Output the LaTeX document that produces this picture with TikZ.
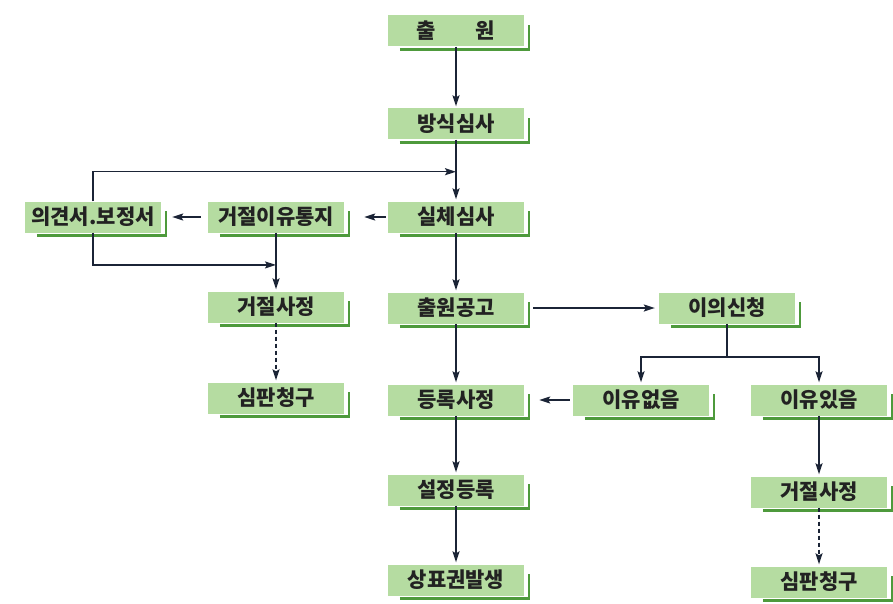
\documentclass[tikz,border=0pt]{standalone}
\usepackage{fontspec}
\newfontfamily\ko{Noto Sans CJK KR}
\usetikzlibrary{arrows.meta,calc}
\definecolor{boxfill}{HTML}{B5DCA1}
\definecolor{boxline}{HTML}{4E9A3C}
\definecolor{arr}{HTML}{1B2436}
\definecolor{txt}{HTML}{222222}
\begin{document}
\begin{tikzpicture}[x=1pt,y=-1pt,
  gbox/.style={fill=boxfill, minimum width=136pt, minimum height=31pt, inner sep=0pt,
    font=\ko\bfseries\fontsize{21}{21}\selectfont, text=txt},
  sh/.style={draw=boxline, line width=2.5pt, line join=miter},
  plain/.style={draw=arr, line width=1.4pt},
  conn/.style={plain, -{Stealth[length=11pt,width=7pt,inset=2pt]}, shorten >=2pt},
  dconn/.style={conn, dash pattern=on 4pt off 3pt}]
\useasboundingbox[fill=white] (0,0) rectangle (893,604);

\node[gbox] (a) at (456,31) {출\hspace{1.9em}원};
\node[gbox] (b) at (456,124) {방식심사};
\node[gbox] (c) at (456,217) {실체심사};
\node[gbox] (d) at (456,308) {출원공고};
\node[gbox] (e) at (456,400) {등록사정};
\node[gbox] (f) at (456,490) {설정등록};
\node[gbox] (g) at (456,580) {상표권발생};
\node[gbox] (h) at (276,217) {거절이유통지};
\node[gbox] (i) at (93,217) {의견서.보정서};
\node[gbox] (j) at (276,307) {거절사정};
\node[gbox] (k) at (276,398) {심판청구};
\node[gbox] (l) at (727,308) {이의신청};
\node[gbox] (m) at (641,400) {이유없음};
\node[gbox] (n) at (819,400) {이유있음};
\node[gbox] (o) at (819,492) {거절사정};
\node[gbox] (p) at (819,582) {심판청구};

\foreach \n in {a,b,c,d,e,f,g,h,i,j,k,l,m,n,o,p}
  \draw[sh] ([xshift=12pt,yshift=-3pt]\n.south west) -- ([xshift=5pt,yshift=-3pt]\n.south east) -- ([xshift=5pt,yshift=-10pt]\n.north east);

% main column
\draw[conn] (a.south) -- (b.north);
\draw[conn] (b.south) -- (c.north);
\draw[conn] (c.south) -- (d.north);
\draw[conn] (d.south) -- (e.north);
\draw[conn] (e.south) -- (f.north);
\draw[conn] (f.south) -- (g.north);

% left part
\draw[conn] ([xshift=-2pt]c.west) -- ([xshift=18pt]h.east);
\draw[conn] ([xshift=-7pt]h.west) -- ([xshift=9pt]i.east);
\coordinate (upj) at ($(b.south)!0.52!(c.north)$);
\coordinate (loj) at ($(h.south)!0.55!(j.north)$);
\draw[conn, shorten >=0pt] (i.north) |- (upj);
\draw[conn, shorten >=0pt] (i.south) |- (loj);
\draw[conn] (h.south) -- (j.north);
\draw[dconn] (j.south) -- (k.north);

% right part
\draw[conn] ([xshift=9pt]d.east) -- ([xshift=-2pt]l.west);
\coordinate (fork) at ($(l.south)!0.55!(l.south |- m.north)$);
\draw[plain] (l.south) -- (fork);
\draw[conn] (fork) -| (m.north);
\draw[conn] (fork) -| (n.north);
\draw[conn] ([xshift=-3pt]m.west) -- ([xshift=13pt]e.east);
\draw[conn] (n.south) -- (o.north);
\draw[dconn] (o.south) -- (p.north);
\end{tikzpicture}
\end{document}
